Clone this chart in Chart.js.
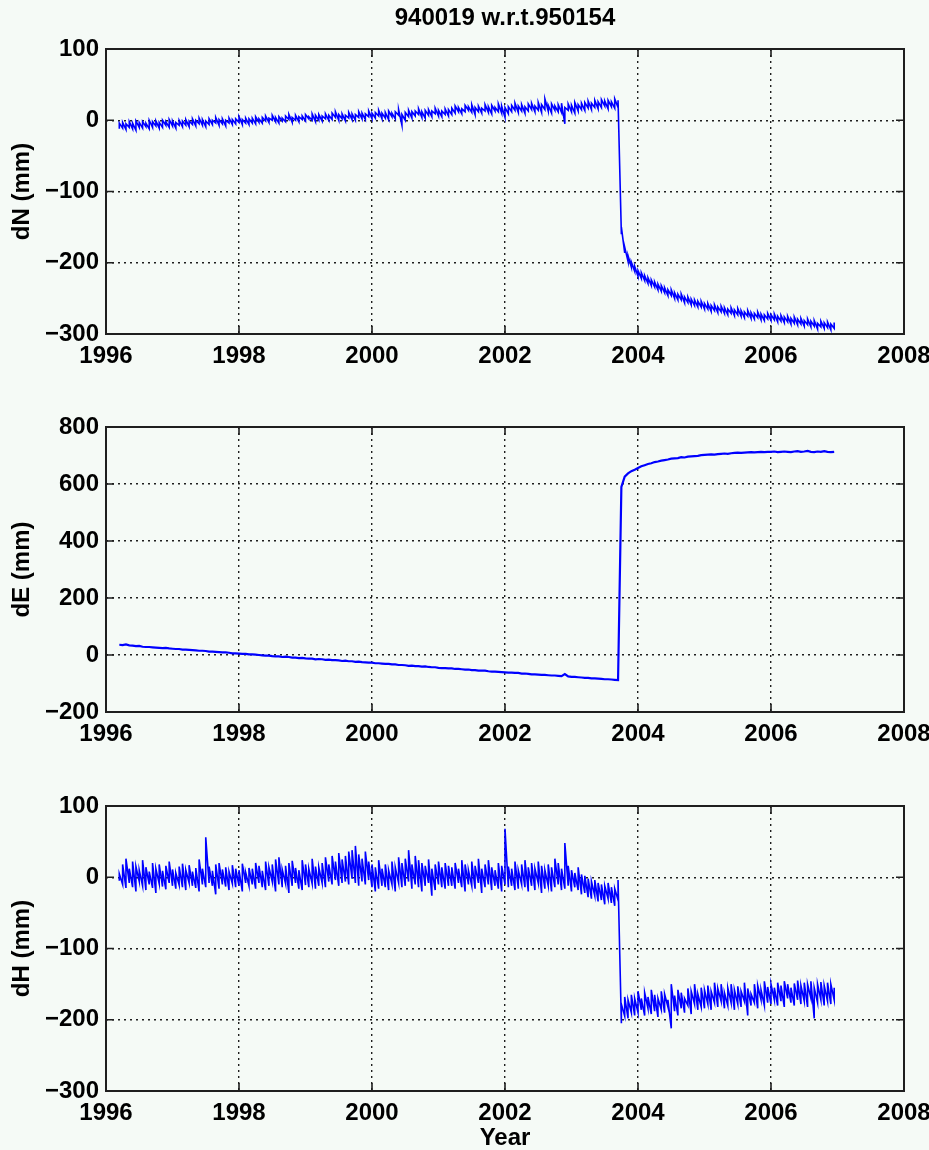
<!DOCTYPE html>
<html><head><meta charset="utf-8">
<script src="https://cdn.jsdelivr.net/npm/chart.js@4.4.1/dist/chart.umd.min.js"></script>
<style>
html,body{margin:0;padding:0;background:#f5faf6;}
#wrap{position:relative;width:929px;height:1150px;overflow:hidden;background:#f5faf6;}
canvas{position:absolute;left:0;}
</style></head><body>
<div id="wrap">
<canvas id="c1" style="top:0px" width="929" height="390"></canvas>
<canvas id="c2" style="top:390px" width="929" height="380"></canvas>
<canvas id="c3" style="top:770px" width="929" height="380"></canvas>
</div>
<script>
const chartTitle = '940019 w.r.t.950154';
const xAxisTitle = 'Year';
const yTitles = ['dN (mm)', 'dE (mm)', 'dH (mm)'];
const xTicks = [1996, 1998, 2000, 2002, 2004, 2006, 2008];
const yTicksN = [-300, -200, -100, 0, 100];
const yTicksE = [-200, 0, 200, 400, 600, 800];
const yTicksH = [-300, -200, -100, 0, 100];

// sample epochs (decimal year); each value below is the reading for the ~18-day bin at that epoch
const years = [
1996.20,1996.25,1996.30,1996.35,1996.40,1996.45,1996.50,1996.55,1996.60,1996.65,1996.70,1996.75,1996.80,1996.85,1996.90,1996.95,
1997.00,1997.05,1997.10,1997.15,1997.20,1997.25,1997.30,1997.35,1997.40,1997.45,1997.50,1997.55,1997.60,1997.65,1997.70,1997.75,1997.80,1997.85,1997.90,1997.95,
1998.00,1998.05,1998.10,1998.15,1998.20,1998.25,1998.30,1998.35,1998.40,1998.45,1998.50,1998.55,1998.60,1998.65,1998.70,1998.75,1998.80,1998.85,1998.90,1998.95,
1999.00,1999.05,1999.10,1999.15,1999.20,1999.25,1999.30,1999.35,1999.40,1999.45,1999.50,1999.55,1999.60,1999.65,1999.70,1999.75,1999.80,1999.85,1999.90,1999.95,
2000.00,2000.05,2000.10,2000.15,2000.20,2000.25,2000.30,2000.35,2000.40,2000.45,2000.50,2000.55,2000.60,2000.65,2000.70,2000.75,2000.80,2000.85,2000.90,2000.95,
2001.00,2001.05,2001.10,2001.15,2001.20,2001.25,2001.30,2001.35,2001.40,2001.45,2001.50,2001.55,2001.60,2001.65,2001.70,2001.75,2001.80,2001.85,2001.90,2001.95,
2002.00,2002.05,2002.10,2002.15,2002.20,2002.25,2002.30,2002.35,2002.40,2002.45,2002.50,2002.55,2002.60,2002.65,2002.70,2002.75,2002.80,2002.85,2002.90,2002.95,
2003.00,2003.05,2003.10,2003.15,2003.20,2003.25,2003.30,2003.35,2003.40,2003.45,2003.50,2003.55,2003.60,2003.65,2003.70,2003.75,2003.80,2003.85,2003.90,2003.95,
2004.00,2004.05,2004.10,2004.15,2004.20,2004.25,2004.30,2004.35,2004.40,2004.45,2004.50,2004.55,2004.60,2004.65,2004.70,2004.75,2004.80,2004.85,2004.90,2004.95,
2005.00,2005.05,2005.10,2005.15,2005.20,2005.25,2005.30,2005.35,2005.40,2005.45,2005.50,2005.55,2005.60,2005.65,2005.70,2005.75,2005.80,2005.85,2005.90,2005.95,
2006.00,2006.05,2006.10,2006.15,2006.20,2006.25,2006.30,2006.35,2006.40,2006.45,2006.50,2006.55,2006.60,2006.65,2006.70,2006.75,2006.80,2006.85,2006.90,2006.95
];

// dN: upper and lower reading of each bin
const dNHigh = [
-4,-3,-5,-2,-4,-1,-3,-2,-4,0,-2,-1,-3,0,-2,1,-1,-3,0,-1,
1,-1,2,0,3,1,-1,2,0,4,1,2,0,3,1,2,5,1,3,2,
3,5,2,4,6,3,7,4,5,3,6,8,4,7,5,6,8,5,9,7,
8,6,9,7,10,12,8,9,7,11,9,8,12,10,9,13,10,11,14,10,
11,13,10,12,15,8,11,14,12,13,16,12,14,15,13,17,14,13,16,15,
17,20,18,16,21,19,22,18,20,17,22,19,21,18,23,20,18,19,21,24,
20,22,19,23,24,20,25,22,30,21,23,20,22,24,18,23,21,25,22,24,
25,27,24,28,26,29,27,28,26,30,28,
-150,-178,-190,-199,-205,
-211,-214,-218,-221,-224,-227,-230,-232,-235,-238,-238,-242,-244,-244,-248,-248,-251,-252,-254,-254,
-257,-257,-260,-259,-262,-261,-263,-265,-263,-266,-264,-267,-269,-267,-270,-271,-269,-272,-273,-271,
-273,-272,-275,-274,-276,-275,-278,-276,-279,-278,-281,-279,-282,-281,-285,-282,-284,-283,-286,-284
];
const dNLow = [
-12,-11,-13,-10,-12,-14,-10,-11,-9,-12,-10,-8,-11,-10,-7,-10,-8,-11,-7,-9,
-7,-9,-6,-8,-5,-7,-9,-6,-6,-4,-7,-5,-8,-4,-6,-5,-3,-6,-4,-6,
-4,-5,-3,-4,-1,-3,0,-2,-4,-1,-2,1,-3,0,-2,1,-1,2,0,-2,
0,-1,2,0,1,4,0,2,-1,3,1,0,4,2,1,5,2,3,6,2,
3,1,5,2,7,-7,0,5,3,6,8,4,3,7,5,9,6,5,8,6,
8,10,12,9,12,14,11,8,12,10,13,11,9,13,12,10,4,9,12,14,
11,13,10,13,15,12,14,11,15,13,10,14,12,11,-5,14,12,10,13,15,
14,17,15,18,16,18,20,16,19,17,18,
-160,-186,-198,-206,-212,
-219,-222,-225,-229,-232,-234,-238,-240,-242,-246,-246,-250,-252,-252,-256,-256,-259,-260,-262,-262,
-265,-265,-268,-267,-270,-269,-271,-273,-271,-274,-273,-275,-277,-275,-278,-279,-277,-280,-281,-279,
-281,-280,-283,-282,-284,-283,-286,-285,-287,-286,-289,-287,-290,-289,-293,-290,-292,-291,-294,-292
];

// dE: one reading per bin
const dE = [
36,35,37,34,33,31,32,29,28,28,
27,26,25,24,25,23,22,21,21,19,
19,18,17,16,15,15,14,12,12,11,
10,9,9,8,6,6,5,4,4,2,
2,1,0,-1,-2,-2,-4,-5,-5,-7,
-6,-7,-9,-9,-11,-10,-12,-13,-13,-15,
-14,-15,-17,-16,-18,-18,-19,-21,-20,-22,
-22,-24,-23,-25,-26,-27,-27,-29,-29,-30,
-31,-31,-33,-33,-35,-35,-36,-38,-37,-39,
-39,-41,-40,-42,-43,-43,-45,-46,-46,-47,
-47,-49,-49,-50,-51,-51,-53,-53,-55,-55,
-55,-57,-58,-58,-59,-60,-61,-62,-62,-63,
-63,-65,-65,-66,-68,-68,-69,-70,-70,-71,
-72,-72,-73,-74,-67,-75,-77,-77,-78,-79,
-80,-80,-82,-82,-83,-84,-85,-85,-86,-87,-88,
590,626,637,645,650,
656,662,666,670,673,677,679,682,684,686,689,690,691,694,693,696,697,698,699,701,
702,703,704,703,705,706,707,706,708,709,710,709,710,711,712,711,712,713,712,713,
713,714,712,713,714,713,712,714,715,713,714,716,713,712,714,713,715,713,712,713
];

// dH: upper and lower reading of each bin
const dHHigh = [
5,18,26,12,22,15,10,24,14,8,20,12,18,9,16,22,11,6,15,19,
10,17,8,13,25,12,56,15,9,18,20,11,14,8,17,12,10,19,7,13,
12,20,16,9,22,14,18,25,28,11,16,20,23,13,10,24,18,12,26,15,
14,20,28,18,30,22,34,25,30,36,38,44,32,26,36,22,18,14,24,12,
18,10,22,14,28,20,26,38,18,30,24,20,16,25,12,18,22,14,20,16,
14,20,12,24,18,10,22,16,26,12,18,24,14,10,20,16,68,15,12,22,
10,18,24,14,20,12,22,16,10,18,14,26,20,12,48,16,10,6,14,4,
2,-2,-6,-4,-8,-10,-12,-8,-14,-16,-4,
-178,-168,-172,-165,-170,
-160,-170,-162,-168,-158,-165,-170,-160,-164,-172,-150,-166,-158,-162,-170,-156,-160,-150,-164,-155,
-158,-152,-160,-148,-156,-150,-162,-155,-150,-158,-153,-160,-148,-156,-164,-150,-152,-158,-146,-154,
-150,-155,-148,-152,-146,-150,-155,-149,-145,-152,-148,-150,-146,-155,-150,-147,-152,-148,-150,-155
];
const dHLow = [
-5,-10,-15,-8,-14,-20,-6,-12,-18,-10,-15,-22,-9,-13,-17,-8,-12,-16,-11,-14,
-18,-8,-12,-15,-20,-10,-14,-8,-12,-24,-16,-10,-13,-18,-9,-14,-12,-20,-8,-12,
-10,-16,-8,-14,-18,-12,-6,-20,-10,-14,-9,-22,-12,-8,-16,-18,-11,-14,-9,-16,
-12,-8,-14,-6,-10,-4,-12,-8,-6,-10,-2,-8,-12,-6,-10,-4,-14,-20,-16,-12,
-14,-18,-10,-20,-8,-14,-12,-6,-16,-10,-14,-20,-12,-8,-26,-18,-10,-14,-16,-12,
-12,-16,-8,-14,-20,-10,-12,-16,-8,-22,-14,-10,-18,-12,-16,-20,-10,-14,-12,-18,
-16,-10,-14,-20,-12,-18,-8,-22,-16,-12,-20,-14,-10,-18,-16,-12,-20,-14,-18,-24,
-22,-28,-30,-26,-34,-32,-38,-30,-36,-40,-32,
-205,-195,-198,-190,-194,
-190,-186,-194,-184,-192,-188,-196,-186,-190,-182,-212,-188,-194,-184,-190,-180,-192,-178,-186,-182,
-184,-178,-186,-176,-182,-174,-184,-180,-176,-186,-178,-182,-174,-194,-180,-176,-184,-172,-180,-176,
-178,-172,-180,-174,-182,-170,-176,-180,-172,-178,-174,-182,-170,-198,-176,-172,-180,-174,-178,-172
];

const FONT = 'Liberation Sans, Arial, Helvetica, sans-serif';
const PLOT_H = 285;

// line through low then high reading of every bin (draws the scatter band)
function bandPoints(low, high) {
  const pts = [];
  years.forEach((x, i) => { pts.push({x: x, y: low[i]}); pts.push({x: x, y: high[i]}); });
  return pts;
}
function linePoints(vals) {
  return vals.map((v, i) => ({x: years[i], y: v}));
}

const framePlugin = {
  id: 'frame',
  afterDatasetsDraw(chart) {
    const {ctx, chartArea: a, scales} = chart;
    ctx.save();
    ctx.setLineDash([]);
    ctx.strokeStyle = '#1e1e1e';
    ctx.lineWidth = 1.6;
    ctx.beginPath();
    scales.x.ticks.forEach(t => {
      const px = scales.x.getPixelForValue(t.value);
      ctx.moveTo(px, a.bottom); ctx.lineTo(px, a.bottom - 8);
      ctx.moveTo(px, a.top); ctx.lineTo(px, a.top + 8);
    });
    scales.y.ticks.forEach(t => {
      const py = scales.y.getPixelForValue(t.value);
      ctx.moveTo(a.left, py); ctx.lineTo(a.left + 8, py);
      ctx.moveTo(a.right, py); ctx.lineTo(a.right - 8, py);
    });
    ctx.stroke();
    ctx.lineWidth = 2;
    ctx.strokeRect(a.left, a.top, a.right - a.left, a.bottom - a.top);
    ctx.restore();
  }
};

function makeChart(id, points, lineW, yTicks, yTitle, padTop, xAxisH, showTitle, showXTitle) {
  const canvas = document.getElementById(id);
  return new Chart(canvas, {
    type: 'line',
    data: {
      datasets: [{
        data: points,
        borderColor: '#0000ff',
        borderWidth: lineW,
        pointRadius: 0,
        tension: 0,
        fill: false
      }]
    },
    options: {
      responsive: false,
      animation: false,
      devicePixelRatio: 1,
      layout: {padding: {top: padTop, right: 25, left: 0, bottom: 0}},
      plugins: {
        legend: {display: false},
        tooltip: {enabled: false},
        title: {
          display: showTitle,
          text: chartTitle,
          color: '#000',
          fullSize: false,
          font: {family: FONT, size: 24, weight: 'bold', lineHeight: 1},
          padding: {top: 6, bottom: 19}
        }
      },
      scales: {
        x: {
          type: 'linear',
          min: xTicks[0],
          max: xTicks[xTicks.length - 1],
          afterBuildTicks: s => { s.ticks = xTicks.map(v => ({value: v})); },
          afterFit: s => { s.height = xAxisH; s.paddingLeft = 0; s.paddingRight = 0; },
          ticks: {
            callback: v => String(v),
            color: '#000',
            font: {family: FONT, size: 24, weight: 'bold', lineHeight: 1},
            padding: 10,
            maxRotation: 0,
            autoSkip: false
          },
          grid: {color: '#1e1e1e', lineWidth: 1.4, drawTicks: false},
          border: {display: false, dash: [2, 4]},
          title: {
            display: showXTitle,
            text: xAxisTitle,
            color: '#000',
            font: {family: FONT, size: 24, weight: 'bold', lineHeight: 1},
            padding: {top: 0, bottom: 0}
          }
        },
        y: {
          min: yTicks[0],
          max: yTicks[yTicks.length - 1],
          afterBuildTicks: s => { s.ticks = yTicks.map(v => ({value: v})); },
          afterFit: s => { s.width = 106; s.paddingTop = 0; s.paddingBottom = 0; },
          ticks: {
            callback: v => String(v).replace('-', '\u2212'),
            color: '#000',
            font: {family: FONT, size: 24, weight: 'bold', lineHeight: 1},
            padding: 7,
            autoSkip: false
          },
          grid: {color: '#1e1e1e', lineWidth: 1.4, drawTicks: false},
          border: {display: false, dash: [2, 4]},
          title: {
            display: true,
            text: yTitle,
            color: '#000',
            font: {family: FONT, size: 24, weight: 'bold', lineHeight: 1},
            padding: {top: 10, bottom: 0}
          }
        }
      }
    },
    plugins: [framePlugin]
  });
}

makeChart('c1', bandPoints(dNLow, dNHigh), 1.6, yTicksN, yTitles[0], 0, 390 - 49 - PLOT_H, true, false);
makeChart('c2', linePoints(dE), 2.2, yTicksE, yTitles[1], 37, 380 - 37 - PLOT_H, false, false);
makeChart('c3', bandPoints(dHLow, dHHigh), 1.6, yTicksH, yTitles[2], 36, 380 - 36 - PLOT_H, false, true);
</script>
</body></html>
